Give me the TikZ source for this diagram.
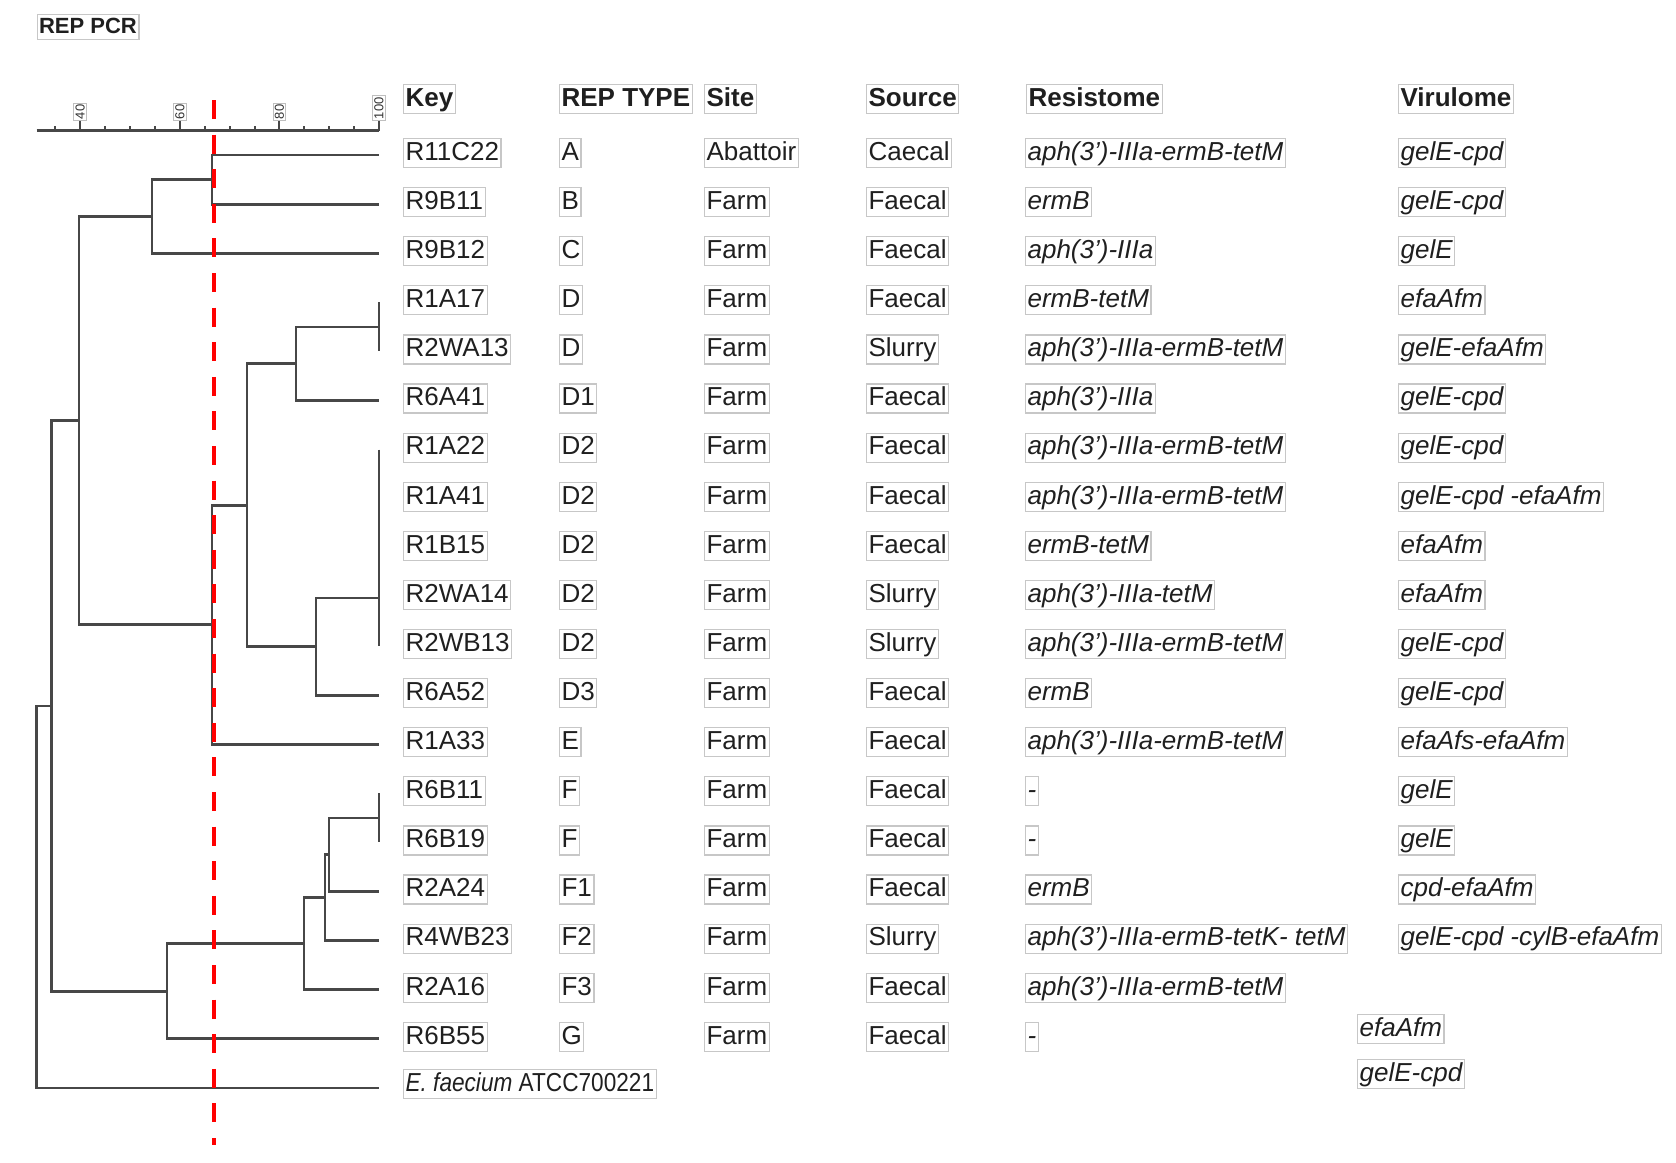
\documentclass[tikz,border=0pt]{standalone}
\usepackage{fontspec}
\setmainfont{Liberation Sans}

\tikzset{
  cell/.style={draw=black!22, line width=0.6pt, anchor=west, inner xsep=1pt, inner ysep=0.6pt,
    text height=10.3pt, text depth=3pt, text=black!88, font=\fontsize{13}{15}\selectfont},
  head/.style={cell, font=\fontsize{13}{15}\selectfont\bfseries},
  gene/.style={cell, font=\fontsize{13}{15}\selectfont\itshape},
  tick label/.style={draw=black!25, line width=0.5pt, inner sep=0.8pt, rotate=90, anchor=west,
    font=\fontsize{6.5}{7}\selectfont, text=black!80},
  branch/.style={line width=1.4pt, draw=black!72},
  cutoff/.style={red, line width=2pt, dash pattern=on 9.5pt off 7.8pt},
}

\begin{document}
\begin{tikzpicture}[x=0.5pt, y=-0.5pt]

    \useasboundingbox (0,0) rectangle (1676,1162);

    % Title
    \node[head, anchor=center, text height=8.6pt, text depth=2.4pt,
          font=\fontsize{11}{13}\selectfont\bfseries] (title) at (88,27) {REP PCR};

    % Similarity scale
    \draw[branch] (36.7,130.7) -- (379,130.7);
    \foreach \v in {35,45,50,55,65,70,75,85,90,95}
        \draw[branch, line width=1pt] ({379-(100-\v)*4.98},130.7) -- ++(0,-4.5);
    \foreach \v in {40,60,80,100} {
        \draw[branch, line width=1pt] ({379-(100-\v)*4.98},130.7) -- ++(0,-9.5);
        \node[tick label] (t\v) at ({379-(100-\v)*4.98},121.2) {\v};
    }

    % Column headers
    \node[head] (hKey) at (403,99) {Key};
    \node[head] (hRep) at (559,99) {REP TYPE};
    \node[head] (hSite) at (704,99) {Site};
    \node[head] (hSrc) at (866,99) {Source};
    \node[head] (hRes) at (1026,99) {Resistome};
    \node[head] (hVir) at (1398,99) {Virulome};

    % Isolates
    \foreach \k/\t/\s/\o [count=\i] in {R11C22/A/Abattoir/Caecal, R9B11/B/Farm/Faecal,
        R9B12/C/Farm/Faecal, R1A17/D/Farm/Faecal, R2WA13/D/Farm/Slurry, R6A41/D1/Farm/Faecal,
        R1A22/D2/Farm/Faecal, R1A41/D2/Farm/Faecal, R1B15/D2/Farm/Faecal, R2WA14/D2/Farm/Slurry,
        R2WB13/D2/Farm/Slurry, R6A52/D3/Farm/Faecal, R1A33/E/Farm/Faecal, R6B11/F/Farm/Faecal,
        R6B19/F/Farm/Faecal, R2A24/F1/Farm/Faecal, R4WB23/F2/Farm/Slurry, R2A16/F3/Farm/Faecal,
        R6B55/G/Farm/Faecal} {
        \pgfmathsetmacro\yy{153+49.1*(\i-1)}
        \node[cell] (key\i) at (403,\yy) {\k};
        \node[cell] (rep\i) at (559,\yy) {\t};
        \node[cell] (site\i) at (704,\yy) {\s};
        \node[cell] (src\i) at (866,\yy) {\o};
    }
    \node[cell] (key20) at (403,1084) {\scalebox{0.87}[1]{\textit{E. faecium} ATCC700221}};

    % Resistome
    \foreach \g [count=\i] in {aph(3')-IIIa-ermB-tetM, ermB, aph(3')-IIIa, ermB-tetM,
        aph(3')-IIIa-ermB-tetM, aph(3')-IIIa, aph(3')-IIIa-ermB-tetM, aph(3')-IIIa-ermB-tetM,
        ermB-tetM, aph(3')-IIIa-tetM, aph(3')-IIIa-ermB-tetM, ermB, aph(3')-IIIa-ermB-tetM,
        -, -, ermB, aph(3')-IIIa-ermB-tetK- tetM, aph(3')-IIIa-ermB-tetM, -} {
        \pgfmathsetmacro\yy{153+49.1*(\i-1)}
        \node[gene] (res\i) at (1025,\yy) {\g};
    }

    % Virulome
    \foreach \g [count=\i] in {gelE-cpd, gelE-cpd, gelE, efaAfm, gelE-efaAfm, gelE-cpd,
        gelE-cpd, gelE-cpd -efaAfm, efaAfm, efaAfm, gelE-cpd, gelE-cpd, efaAfs-efaAfm,
        gelE, gelE, cpd-efaAfm, gelE-cpd -cylB-efaAfm} {
        \pgfmathsetmacro\yy{153+49.1*(\i-1)}
        \node[gene] (vir\i) at (1398,\yy) {\g};
    }
    \node[gene] (vir19) at (1357,1029) {efaAfm};
    \node[gene] (vir20) at (1357,1074) {gelE-cpd};

    % Leaf tips and dendrogram nodes
    \foreach \i in {1,...,20}
        \coordinate (l\i) at (379,{155+49.1*(\i-1)});
    \coordinate (dd) at (379,326.9);
    \coordinate (dtwo) at (379,598);
    \coordinate (ff) at (379,817.9);
    \coordinate (nAB) at (212,179.5);
    \coordinate (nABC) at (152,216.4);
    \coordinate (nD) at (296,363.7);
    \coordinate (nDtwo) at (316,646.5);
    \coordinate (nDall) at (247,505.1);
    \coordinate (nDE) at (212,624.7);
    \coordinate (nUp) at (79,420.6);
    \coordinate (nFa) at (329,854.7);
    \coordinate (nFb) at (325,897.7);
    \coordinate (nFc) at (304,943.7);
    \coordinate (nFG) at (167,991.3);
    \coordinate (nIn) at (51.7,706);
    \coordinate (root) at (36.7,897);

    % Dendrogram
    \draw[branch] (l4) -- (l5);
    \draw[branch] (l7) -- (l11);
    \draw[branch] (l14) -- (l15);
    \draw[branch] (nAB) |- (l1) (nAB) |- (l2);
    \draw[branch] (nABC) |- (nAB) (nABC) |- (l3);
    \draw[branch] (nD) |- (dd) (nD) |- (l6);
    \draw[branch] (nDtwo) |- (dtwo) (nDtwo) |- (l12);
    \draw[branch] (nDall) |- (nD) (nDall) |- (nDtwo);
    \draw[branch] (nDE) |- (nDall) (nDE) |- (l13);
    \draw[branch] (nUp) |- (nABC) (nUp) |- (nDE);
    \draw[branch] (nFa) |- (ff) (nFa) |- (l16);
    \draw[branch] (nFb) |- (nFa) (nFb) |- (l17);
    \draw[branch] (nFc) |- (nFb) (nFc) |- (l18);
    \draw[branch] (nFG) |- (nFc) (nFG) |- (l19);
    \draw[branch] (nIn) |- (nUp) (nIn) |- (nFG);
    \draw[branch] (root) |- (nIn) (root) |- (l20);

    % Cut-off line
    \coordinate (cutTop) at (214,100);
    \coordinate (cutBot) at (214,1145);
    \draw[cutoff] (cutTop) -- (cutBot);

\end{tikzpicture}
\end{document}
